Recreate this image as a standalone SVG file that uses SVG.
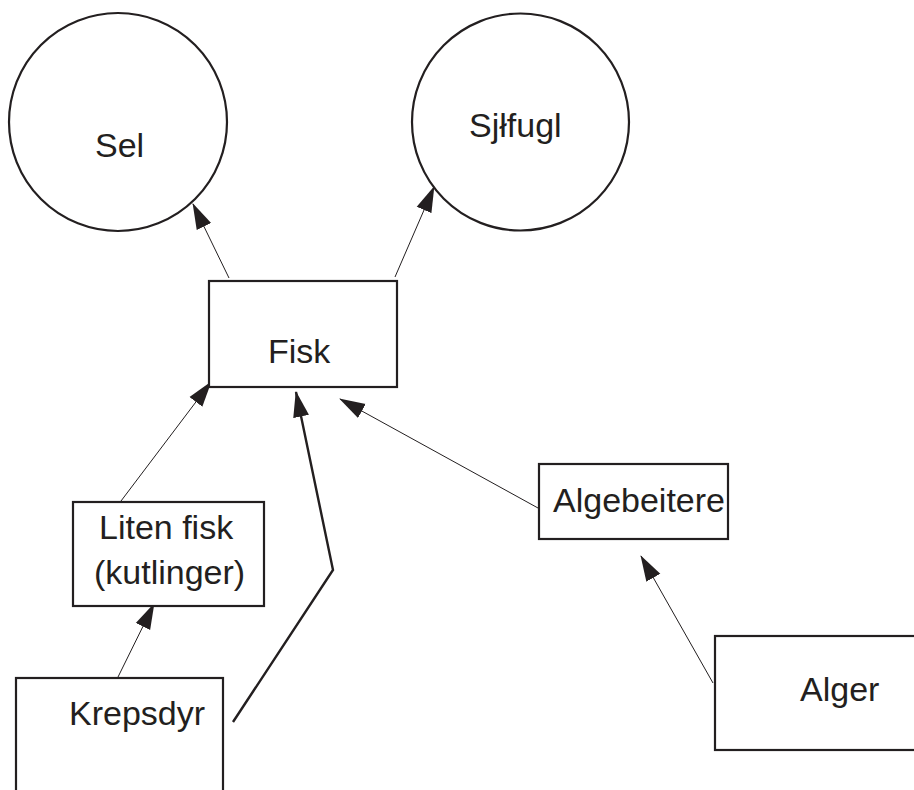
<svg xmlns="http://www.w3.org/2000/svg" width="914" height="790" viewBox="0 0 914 790">
<style>
  .shape { fill: #ffffff; stroke: #231f20; stroke-width: 2.2; }
  .lbl { font-family: "Liberation Sans", Arial, Helvetica, sans-serif; font-size: 34px; fill: #231f20; }
  .thin { fill: none; stroke: #231f20; stroke-width: 1; marker-end: url(#ah); }
  .thick { fill: none; stroke: #231f20; stroke-width: 2.4; stroke-linejoin: miter; marker-end: url(#ah); }
</style>
<defs>
  <marker id="ah" markerUnits="userSpaceOnUse" markerWidth="26" markerHeight="18" viewBox="0 0 26 18" refX="25" refY="9" orient="auto">
    <path d="M0,1 L26,9 L0,17 z" fill="#231f20"/>
  </marker>
</defs>
<rect width="914" height="790" fill="#ffffff"/>
<g id="connectors">
  <line class="thin" x1="229" y1="278" x2="193" y2="204"/>
  <line class="thin" x1="395" y1="277" x2="434" y2="187"/>
  <line class="thin" x1="121" y1="501" x2="211" y2="382"/>
  <polyline class="thick" points="233,722 333,570 296,392"/>
  <line class="thin" x1="538" y1="508" x2="340" y2="399"/>
  <line class="thin" x1="118" y1="677" x2="154" y2="604"/>
  <line class="thin" x1="713" y1="683" x2="641" y2="556"/>
</g>
<g id="sel">
  <circle class="shape" cx="118" cy="122" r="109"/>
  <text class="lbl" x="95" y="157">Sel</text>
</g>
<g id="sjofugl">
  <circle class="shape" cx="520.5" cy="122" r="108.5"/>
  <text class="lbl" x="469" y="137">Sjłfugl</text>
</g>
<g id="fisk">
  <rect class="shape" x="209" y="281" width="188" height="106"/>
  <text class="lbl" x="268" y="363">Fisk</text>
</g>
<g id="liten-fisk">
  <rect class="shape" x="73" y="502" width="191" height="104"/>
  <text class="lbl" x="99" y="539">Liten fisk</text>
  <text class="lbl" x="94" y="584">(kutlinger)</text>
</g>
<g id="algebeitere">
  <rect class="shape" x="539" y="464" width="189" height="75"/>
  <text class="lbl" x="553" y="512">Algebeitere</text>
</g>
<g id="krepsdyr">
  <rect class="shape" x="16" y="678" width="207" height="130"/>
  <text class="lbl" x="69" y="725">Krepsdyr</text>
</g>
<g id="alger">
  <rect class="shape" x="715" y="636" width="210" height="114"/>
  <text class="lbl" x="800" y="701">Alger</text>
</g>
</svg>
